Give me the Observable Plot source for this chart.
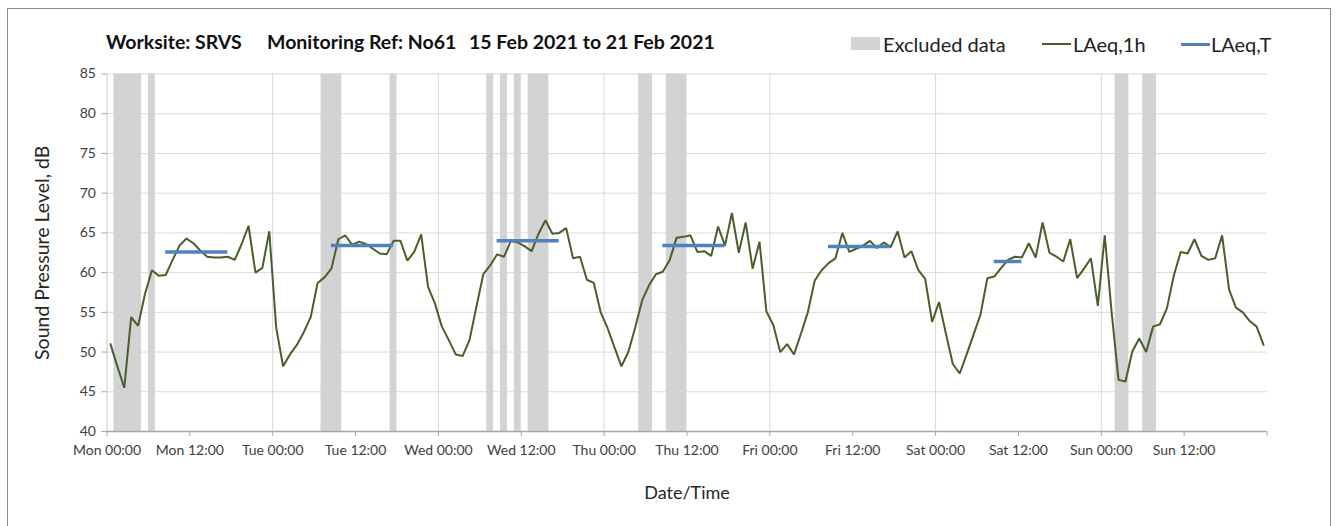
<!DOCTYPE html>
<html>
<head>
<meta charset="utf-8">
<script src="https://cdn.jsdelivr.net/npm/d3@7"></script>
<script src="https://cdn.jsdelivr.net/npm/@observablehq/plot@0.6"></script>
<style>
  html, body { margin: 0; padding: 0; background: #fff; }
  body { width: 1338px; height: 526px; overflow: hidden; font-family: Lato, "Open Sans", sans-serif; }
  #wrap { position: relative; width: 1338px; height: 526px; }
  #frame { position: absolute; left: 7px; top: 8px; width: 1324px; height: 540px; border: 1px solid #8c8c8c; box-sizing: border-box; }
  #chart { position: absolute; left: 0; top: 0; }
  .title { position: absolute; top: 30px; font-size: 19.5px; font-weight: bold; color: #111; white-space: nowrap; line-height: 24px; }
  .leg { position: absolute; top: 32px; font-size: 20px; color: #222; white-space: nowrap; line-height: 24px; }
  .sw { position: absolute; }
</style>
</head>
<body>
<div id="wrap">
  <div id="frame"></div>
  <div id="chart"></div>
</div>
<script>
// Title pieces
const titleParts = ["Worksite: SRVS", "Monitoring Ref: No61", "15 Feb 2021 to 21 Feb 2021"];

// Axis settings
const tickHours = [0, 12, 24, 36, 48, 60, 72, 84, 96, 108, 120, 132, 144, 156, 168];
const tickLabels = ["Mon 00:00", "Mon 12:00", "Tue 00:00", "Tue 12:00", "Wed 00:00", "Wed 12:00",
  "Thu 00:00", "Thu 12:00", "Fri 00:00", "Fri 12:00", "Sat 00:00", "Sat 12:00",
  "Sun 00:00", "Sun 12:00", ""];
const yTicks = [40, 45, 50, 55, 60, 65, 70, 75, 80, 85];

// Hourly LAeq,1h levels (dB), Mon 00:00 through Sun 23:00
const laeq1h = [
  51.0, 48.2, 45.5, 54.4, 53.3, 57.3, 60.3, 59.6, 59.7, 61.6, 63.4, 64.3,
  63.7, 62.8, 62.0, 61.9, 61.9, 62.0, 61.6, 63.6, 65.9, 60.0, 60.6, 65.2,
  53.1, 48.2, 49.7, 50.9, 52.5, 54.4, 58.7, 59.4, 60.5, 64.2, 64.7, 63.5,
  63.9, 63.6, 63.0, 62.4, 62.3, 64.0, 64.0, 61.5, 62.6, 64.8, 58.2, 56.1,
  53.2, 51.5, 49.7, 49.5, 51.5, 55.7, 59.8, 60.9, 62.3, 62.0, 64.0, 63.8,
  63.3, 62.7, 64.9, 66.6, 64.9, 65.0, 65.6, 61.8, 62.0, 59.1, 58.7, 55.0,
  53.0, 50.6, 48.2, 50.0, 53.1, 56.5, 58.4, 59.8, 60.1, 61.6, 64.4, 64.5,
  64.7, 62.6, 62.7, 62.1, 65.8, 63.4, 67.5, 62.5, 66.3, 60.5, 63.9, 55.1,
  53.4, 50.0, 51.0, 49.7, 52.3, 55.0, 59.0, 60.3, 61.2, 61.8, 65.0, 62.6,
  63.0, 63.4, 64.0, 63.1, 63.8, 63.2, 65.2, 61.9, 62.7, 60.3, 59.2, 53.8,
  56.3, 52.3, 48.5, 47.3, 49.7, 52.2, 54.7, 59.3, 59.5, 60.6, 61.6, 62.0,
  61.9, 63.7, 61.9, 66.3, 62.5, 62.0, 61.4, 64.2, 59.3, 60.5, 61.8, 55.8,
  64.7, 55.0, 46.5, 46.3, 50.1, 51.7, 50.0, 53.2, 53.5, 55.5, 59.6, 62.6,
  62.4, 64.2, 62.1, 61.6, 61.8, 64.7, 57.9, 55.6, 55.0, 53.9, 53.2, 50.9
];

// Excluded periods, in hours from Mon 00:00
const excludedStart = [1, 6, 31, 41, 55, 57, 59, 61, 77, 81, 146, 150];
const excludedEnd   = [5, 7, 34, 42, 56, 58, 60, 64, 79, 84, 148, 152];

// LAeq,T over each daytime period (first and last hourly interval included)
const periodFirstHour = [8, 32, 56, 80, 104, 128];
const periodLastHour  = [17, 41, 65, 89, 113, 132];
const laeqT = [62.6, 63.4, 64.0, 63.4, 63.3, 61.4];

const colors = { grid: "#d9d9d9", excluded: "#d3d3d3", hourly: "#4a5e2a", period: "#4f81bd", axis: "#a6a6a6" };

// Build tables from the arrays; hourly values sit in the middle of their hour
const hourly = laeq1h.map((v, i) => ({ t: i + 0.5, v }));
const excluded = excludedStart.map((s, i) => ({ s, e: excludedEnd[i] }));
const periods = laeqT.map((v, i) => ({ a: periodFirstHour[i] + 0.5, b: periodLastHour[i] + 0.5, v }));
const yMin = yTicks[0], yMax = yTicks[yTicks.length - 1];
const xMax = tickHours[tickHours.length - 1];
const dayLines = tickHours.filter(h => h % 24 === 0 && h > 0 && h < xMax);

const chart = Plot.plot({
  width: 1338,
  height: 526,
  marginLeft: 106.5,
  marginRight: 71.5,
  marginTop: 73.5,
  marginBottom: 95,
  style: { fontFamily: "Lato, 'Open Sans', sans-serif", background: "transparent", color: "#404040" },
  x: { domain: [0, xMax], axis: null },
  y: { domain: [yMin, yMax], axis: null },
  marks: [
    Plot.ruleY(yTicks.slice(1), { stroke: colors.grid, strokeWidth: 1 }),
    Plot.ruleX(dayLines, { stroke: colors.grid, strokeWidth: 1 }),
    Plot.rect(excluded, { x1: "s", x2: "e", y1: yMin, y2: yMax, fill: colors.excluded }),
    Plot.ruleX([0], { stroke: "#c6c6c6", strokeWidth: 1 }),
    Plot.ruleY([yMin], { stroke: colors.axis, strokeWidth: 1.5 }),
    Plot.line(hourly, { x: "t", y: "v", stroke: colors.hourly, strokeWidth: 2, strokeLinejoin: "miter" }),
    Plot.ruleY(periods, { x1: "a", x2: "b", y: "v", stroke: colors.period, strokeWidth: 3.5 }),
    Plot.axisX({
      ticks: tickHours, tickFormat: (d, i) => tickLabels[i], tickSize: 5, tickPadding: 9,
      fontSize: 14, stroke: colors.axis, fill: "#404040", label: null
    }),
    Plot.axisY({
      ticks: yTicks, tickSize: 5, tickPadding: 6, fontSize: 14, stroke: colors.axis, fill: "#404040", label: null
    }),
    Plot.text(["Date/Time"], { frameAnchor: "bottom", dy: 67, fontSize: 18, fill: "#262626" }),
    Plot.text(["Sound Pressure Level, dB"], { frameAnchor: "left", textAnchor: "middle", lineAnchor: "middle", rotate: -90, dx: -64, fontSize: 19.5, fill: "#262626" })
  ]
});
document.getElementById("chart").appendChild(chart);

// Title line
const wrap = document.getElementById("wrap");
const titleLeft = [106, 267, 469];
for (let i = 0; i < titleParts.length; i++) {
  const el = document.createElement("div");
  el.className = "title";
  el.style.left = titleLeft[i] + "px";
  el.textContent = titleParts[i];
  wrap.appendChild(el);
}

// Legend
const legendItems = [
  { label: "Excluded data", kind: "box", color: colors.excluded, sx: 851, tx: 883 },
  { label: "LAeq,1h", kind: "line", color: colors.hourly, sx: 1042, tx: 1073 },
  { label: "LAeq,T", kind: "line", color: colors.period, sx: 1181, tx: 1211 }
];
for (const it of legendItems) {
  const sw = document.createElement("div");
  sw.className = "sw";
  if (it.kind === "box") {
    Object.assign(sw.style, { left: it.sx + "px", top: "37px", width: "29px", height: "13px", background: it.color });
  } else {
    const thick = it.color === colors.period ? 3 : 2;
    Object.assign(sw.style, { left: it.sx + "px", top: (44 - thick / 2) + "px", width: "29px",
      height: thick + "px", background: it.color });
  }
  wrap.appendChild(sw);
  const tx = document.createElement("div");
  tx.className = "leg";
  tx.style.left = it.tx + "px";
  tx.textContent = it.label;
  wrap.appendChild(tx);
}
</script>
</body>
</html>
